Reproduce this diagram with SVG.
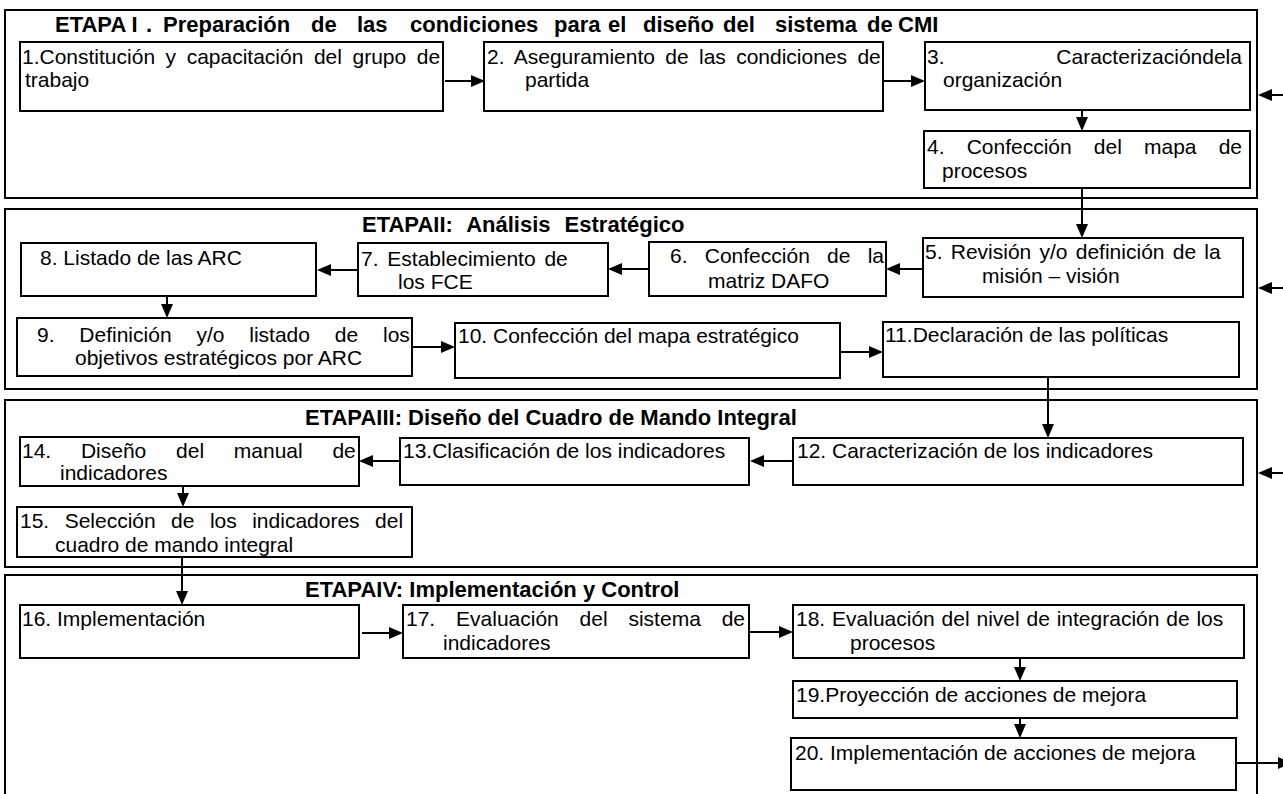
<svg xmlns="http://www.w3.org/2000/svg" width="1283" height="794" viewBox="0 0 1283 794">
<style>
.stage{fill:#fff;stroke:#000;stroke-width:2}
.box{fill:#fff;stroke:#000;stroke-width:2}
.t{font-family:"Liberation Sans",Arial,sans-serif;font-size:21px;fill:#000}
.h{font-family:"Liberation Sans",Arial,sans-serif;font-size:22px;font-weight:bold;fill:#000}
.c{stroke:#000;stroke-width:2;fill:none;marker-end:url(#ah)}
</style>
<defs>
<marker id="ah" markerUnits="userSpaceOnUse" markerWidth="14" markerHeight="12" refX="4" refY="6" orient="auto">
<path d="M0,0 L14,6 L0,12 Z" fill="#000"/>
</marker>
</defs>
<g id="stages">
<g id="stage1"><rect class="stage" x="5" y="10" width="1252" height="188"/>
<text class="h" y="32"><tspan x="55">ETAPA I</tspan><tspan x="146">. </tspan><tspan x="163">Preparación </tspan><tspan x="311">de </tspan><tspan x="357">las </tspan><tspan x="410">condiciones </tspan><tspan x="554">para </tspan><tspan x="608">el </tspan><tspan x="643">diseño </tspan><tspan x="723">del </tspan><tspan x="775">sistema </tspan><tspan x="867">de </tspan><tspan x="898">CMI</tspan></text></g>
<g id="stage2"><rect class="stage" x="5" y="209" width="1252" height="180"/>
<text class="h" x="362" y="232" word-spacing="8">ETAPAII: Análisis Estratégico</text></g>
<g id="stage3"><rect class="stage" x="5" y="400" width="1252" height="167"/>
<text class="h" x="305" y="425">ETAPAIII: Diseño del Cuadro de Mando Integral</text></g>
<g id="stage4"><rect class="stage" x="5" y="575" width="1252" height="240"/>
<text class="h" x="305" y="597">ETAPAIV: Implementación y Control</text></g>
</g>
<g id="connectors">
<line class="c" x1="445" y1="81" x2="475" y2="81"/>
<line class="c" x1="883" y1="81" x2="915" y2="81"/>
<line class="c" x1="1082" y1="110" x2="1082" y2="121"/>
<line class="c" x1="1082" y1="188" x2="1082" y2="228"/>
<line class="c" x1="923" y1="269" x2="896" y2="269"/>
<line class="c" x1="649" y1="269" x2="618" y2="269"/>
<line class="c" x1="358" y1="270" x2="327" y2="270"/>
<line class="c" x1="167" y1="296" x2="167" y2="308"/>
<line class="c" x1="412" y1="347" x2="445" y2="347"/>
<line class="c" x1="840" y1="352" x2="873" y2="352"/>
<line class="c" x1="1048" y1="377" x2="1048" y2="428"/>
<line class="c" x1="793" y1="461" x2="760" y2="461"/>
<line class="c" x1="400" y1="461" x2="369" y2="461"/>
<line class="c" x1="183" y1="486" x2="183" y2="497"/>
<line class="c" x1="182" y1="557" x2="182" y2="595"/>
<line class="c" x1="362" y1="633" x2="393" y2="633"/>
<line class="c" x1="749" y1="632" x2="783" y2="632"/>
<line class="c" x1="1020" y1="658" x2="1020" y2="671"/>
<line class="c" x1="1020" y1="718" x2="1020" y2="728"/>
<line class="c" x1="1236" y1="763" x2="1282" y2="763"/>
<line class="c" x1="1283" y1="95" x2="1268" y2="95"/>
<line class="c" x1="1283" y1="288" x2="1268" y2="288"/>
<line class="c" x1="1283" y1="473" x2="1268" y2="473"/>
</g>
<g id="n1"><rect class="box" x="20" y="42" width="423" height="69"/>
<text class="t" x="22" y="64" word-spacing="4.7">1.Constitución y capacitación del grupo de</text>
<text class="t" x="25" y="87">trabajo</text></g>
<g id="n2"><rect class="box" x="484" y="42" width="399" height="69"/>
<text class="t" x="487" y="64" word-spacing="4.5">2. Aseguramiento de las condiciones de</text>
<text class="t" x="525" y="87">partida</text></g>
<g id="n3"><rect class="box" x="925" y="42" width="325" height="68"/>
<text class="t" x="927" y="64" word-spacing="106">3. Caracterizacióndela</text>
<text class="t" x="943" y="87">organización</text></g>
<g id="n4"><rect class="box" x="924" y="131" width="326" height="57"/>
<text class="t" x="927" y="154" word-spacing="16.3">4. Confección del mapa de</text>
<text class="t" x="942" y="178">procesos</text></g>
<g id="n5"><rect class="box" x="923" y="238" width="320" height="59"/>
<text class="t" x="925" y="259" word-spacing="2.4">5. Revisión y/o definición de la</text>
<text class="t" x="982" y="283">misión – visión</text></g>
<g id="n6"><rect class="box" x="649" y="242" width="237" height="54"/>
<text class="t" x="670" y="263" word-spacing="11.4">6. Confección de la</text>
<text class="t" x="708" y="288">matriz DAFO</text></g>
<g id="n7"><rect class="box" x="358" y="243" width="250" height="53"/>
<text class="t" x="361" y="266" word-spacing="3">7. Establecimiento de</text>
<text class="t" x="398" y="289">los FCE</text></g>
<g id="n8"><rect class="box" x="21" y="243" width="295" height="53"/>
<text class="t" x="40" y="265">8. Listado de las ARC</text></g>
<g id="n9"><rect class="box" x="17" y="318" width="395" height="58"/>
<text class="t" x="37" y="342" word-spacing="19">9. Definición y/o listado de los</text>
<text class="t" x="75" y="365">objetivos estratégicos por ARC</text></g>
<g id="n10"><rect class="box" x="455" y="323" width="385" height="55"/>
<text class="t" x="458" y="343">10. Confección del mapa estratégico</text></g>
<g id="n11"><rect class="box" x="883" y="322" width="356" height="55"/>
<text class="t" x="885" y="342">11.Declaración de las políticas</text></g>
<g id="n12"><rect class="box" x="793" y="438" width="450" height="47"/>
<text class="t" x="797" y="458">12. Caracterización de los indicadores</text></g>
<g id="n13"><rect class="box" x="400" y="438" width="349" height="47"/>
<text class="t" x="403" y="458">13.Clasificación de los indicadores</text></g>
<g id="n14"><rect class="box" x="20" y="437" width="339" height="49"/>
<text class="t" x="22" y="458" word-spacing="23.9">14. Diseño del manual de</text>
<text class="t" x="60" y="480">indicadores</text></g>
<g id="n15"><rect class="box" x="17" y="507" width="395" height="50"/>
<text class="t" x="20" y="528" word-spacing="9.6">15. Selección de los indicadores del</text>
<text class="t" x="55" y="552">cuadro de mando integral</text></g>
<g id="n16"><rect class="box" x="20" y="605" width="339" height="53"/>
<text class="t" x="22" y="626">16. Implementación</text></g>
<g id="n17"><rect class="box" x="403" y="605" width="346" height="53"/>
<text class="t" x="406" y="626" word-spacing="15">17. Evaluación del sistema de</text>
<text class="t" x="443" y="650">indicadores</text></g>
<g id="n18"><rect class="box" x="793" y="605" width="451" height="53"/>
<text class="t" x="796" y="626" word-spacing="1">18. Evaluación del nivel de integración de los</text>
<text class="t" x="850" y="650">procesos</text></g>
<g id="n19"><rect class="box" x="793" y="681" width="444" height="37"/>
<text class="t" x="796" y="702">19.Proyección de acciones de mejora</text></g>
<g id="n20"><rect class="box" x="791" y="738" width="445" height="52"/>
<text class="t" x="795" y="760">20. Implementación de acciones de mejora</text></g>
</svg>
